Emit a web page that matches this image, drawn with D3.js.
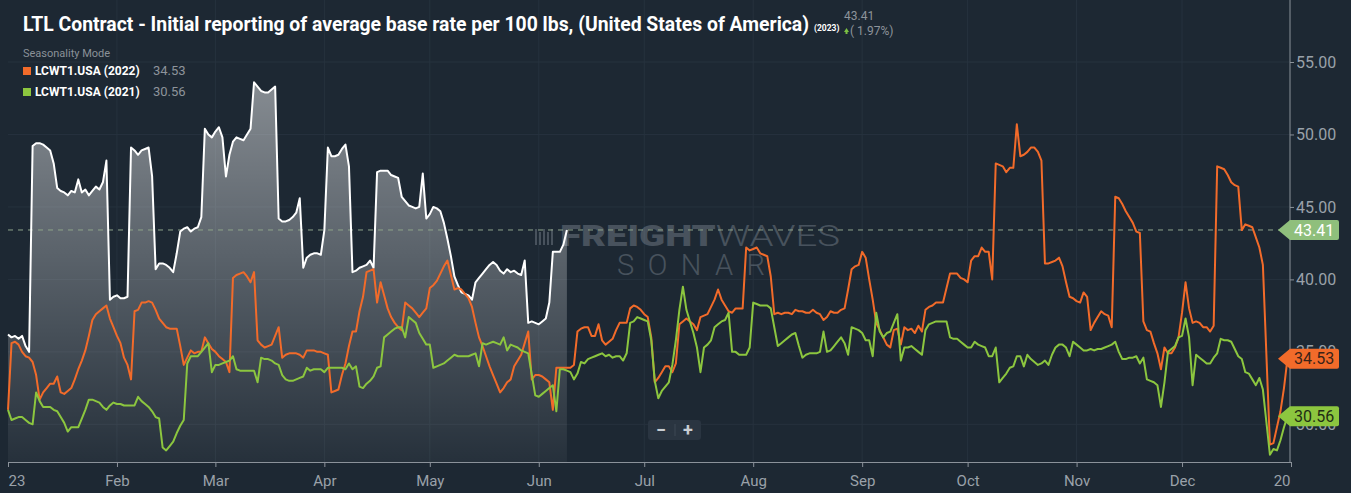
<!DOCTYPE html>
<html><head><meta charset="utf-8">
<script src="https://cdn.jsdelivr.net/npm/d3@7"></script>
<style>
html,body{margin:0;padding:0;background:#1d2833;}
svg{display:block;}
text{font-family:Roboto,"Noto Sans",sans-serif;}
</style></head>
<body><svg id="c" width="1351" height="493"></svg>
<script>
// ---------- DATA (day of year offset from Jan 1, value) ----------
const days2023 = [0,1,2,3,4,5,6,7,8,9,10,11,12,13,14,15,16,17,18,19,20,21,22,23,24,25,26,27,28,29,30,31,32,33,34,35,36,37,38,39,40,41,42,43,44,45,46,47,48,49,50,51,52,53,54,55,56,57,58,59,60,61,62,63,64,65,66,67,68,69,70,71,72,73,74,75,76,77,78,79,80,81,82,83,84,85,86,87,88,89,90,91,92,93,94,95,96,97,98,99,100,101,102,103,104,105,106,107,108,109,110,111,112,113,114,115,116,117,118,119,120,121,122,123,124,125,126,127,128,129,130,131,132,133,134,135,136,137,138,139,140,141,142,143,144,145,146,147,148,149,150,151,152,153,154,155,156,157,158,159];
const vals2023 = [36.2,36.0,36.1,35.9,36.1,35.4,35.0,49.2,49.4,49.4,49.3,49.1,48.9,48.0,46.3,46.1,46.0,45.8,46.1,46.0,46.9,46.0,46.2,45.8,46.1,46.4,46.2,46.7,48.2,38.6,38.8,38.9,38.7,38.7,38.8,49.1,48.9,48.6,48.9,49.0,49.1,47.1,40.7,41.1,41.1,41.0,40.8,40.5,41.8,43.3,43.5,43.6,43.3,43.5,43.6,44.3,50.4,50.0,49.8,50.2,50.5,49.8,47.1,48.6,49.5,49.8,49.7,49.6,50.0,50.4,53.6,53.3,53.0,52.9,52.9,53.1,53.3,44.2,44.0,44.0,44.1,44.3,44.6,45.6,40.8,41.5,41.7,41.8,41.8,41.7,43.4,49.1,48.5,48.5,48.6,49.0,49.3,47.8,40.5,40.6,40.8,40.9,41.0,41.3,40.8,47.4,47.5,47.5,47.5,47.2,47.1,47.0,45.7,45.4,45.1,45.0,44.9,45.0,47.3,44.2,44.5,45.0,44.9,44.7,43.9,42.8,41.6,40.2,39.6,39.1,39.0,38.9,38.6,39.8,40.1,40.4,40.7,41.0,41.2,41.0,40.6,40.4,40.7,40.5,40.6,40.4,40.3,41.3,37.0,37.1,37.0,36.9,37.1,37.3,38.4,41.9,41.9,41.9,42.4,43.41];

const days2022 = [0,1,2,3,4,5,6,7,8,9,10,11,12,13,14,15,16,17,18,19,20,21,22,23,24,25,26,27,28,29,30,31,32,33,34,35,36,37,38,39,40,41,42,43,44,45,46,47,48,49,50,51,52,53,54,55,56,57,58,59,60,61,62,63,64,65,66,67,68,69,70,71,72,73,74,75,76,77,78,79,80,81,82,83,84,85,86,87,88,89,90,91,92,93,94,95,96,97,98,99,100,101,102,103,104,105,106,107,108,109,110,111,112,113,114,115,116,117,118,119,120,121,122,123,124,125,126,127,128,129,130,131,132,133,134,135,136,137,138,139,140,141,142,143,144,145,146,147,148,149,150,151,152,153,154,155,156,157,158,159,160,161,162,163,164,165,166,167,168,169,170,171,172,173,174,175,176,177,178,179,180,181,182,183,184,185,186,187,188,189,190,191,192,193,194,195,196,197,198,199,200,201,202,203,204,205,206,207,208,209,210,211,212,213,214,215,216,217,218,219,220,221,222,223,224,225,226,227,228,229,230,231,232,233,234,235,236,237,238,239,240,241,242,243,244,245,246,247,248,249,250,251,252,253,254,255,256,257,258,259,260,261,262,263,264,265,266,267,268,269,270,271,272,273,274,275,276,277,278,279,280,281,282,283,284,285,286,287,288,289,290,291,292,293,294,295,296,297,298,299,300,301,302,303,304,305,306,307,308,309,310,311,312,313,314,315,316,317,318,319,320,321,322,323,324,325,326,327,328,329,330,331,332,333,334,335,336,337,338,339,340,341,342,343,344,345,346,347,348,349,350,351,352,353,354,355,356,357,359,360,362,363,364];
const vals2022 = [31.0,35.6,35.7,35.5,35.0,34.7,34.6,34.3,33.4,31.7,32.2,32.5,32.8,32.8,33.3,32.2,32.1,32.3,32.5,33.1,33.8,34.4,35.1,36.1,37.2,37.6,37.8,38.0,38.2,37.3,36.7,36.1,35.6,34.6,34.1,33.1,37.8,37.9,38.4,38.4,38.5,38.4,37.9,37.3,37.0,36.7,36.6,36.6,36.6,35.4,34.1,34.6,35.1,34.9,35.0,35.0,36.0,35.6,35.2,35.0,34.7,34.5,34.3,33.6,40.1,40.3,40.4,40.5,40.2,39.8,40.5,35.8,35.5,35.3,35.4,35.5,36.1,36.7,34.6,34.8,34.9,34.9,34.9,34.8,34.6,35.1,35.1,35.1,35.0,35.0,34.9,34.8,32.2,32.3,32.4,33.4,34.2,35.4,36.4,36.4,37.8,38.8,40.5,40.6,40.7,38.4,39.8,38.9,38.0,37.4,37.0,36.7,36.5,38.4,38.2,38.0,37.7,37.4,37.7,38.0,39.4,39.6,39.9,40.4,40.9,41.3,40.3,39.3,39.4,39.3,39.0,38.7,38.1,37.0,36.0,35.4,34.7,34.0,33.4,32.8,32.2,32.5,32.9,33.1,34.0,34.4,34.8,35.6,36.4,33.1,33.4,33.4,33.3,33.1,32.9,31.0,33.9,33.9,33.9,33.9,33.9,34.1,36.4,36.6,36.7,36.7,36.1,36.1,36.9,35.8,35.5,35.7,35.9,36.5,37.0,37.0,37.0,38.0,38.2,38.1,37.9,37.6,37.4,36.0,32.9,33.2,33.6,34.0,34.0,33.6,34.2,36.9,37.1,37.3,37.1,36.9,36.5,37.4,37.5,37.6,38.1,38.6,39.3,38.6,38.2,37.8,37.7,38.0,38.0,38.0,42.2,42.0,42.1,42.2,41.8,41.7,41.6,40.2,37.6,37.7,37.6,37.7,37.7,37.6,37.9,37.8,37.8,37.7,37.7,37.9,37.7,37.6,37.2,37.4,37.8,37.7,37.7,37.9,38.0,39.3,40.7,40.9,41.0,41.9,41.5,40.0,38.6,37.0,36.5,36.0,35.5,35.3,36.5,36.6,35.5,36.7,36.5,36.6,36.3,36.8,36.4,37.9,38.1,38.2,38.4,38.4,38.4,39.4,40.4,40.4,40.4,40.1,40.0,39.8,41.3,41.6,41.6,42.2,41.9,41.9,40.0,48.0,47.9,47.8,47.4,47.7,47.7,50.7,48.5,48.6,48.8,49.1,49.1,48.8,48.2,41.1,41.1,41.2,41.3,41.5,40.9,39.8,38.8,38.7,38.5,38.4,39.1,38.8,36.5,37.0,37.4,37.8,37.6,37.5,36.7,45.7,45.6,45.2,44.7,44.3,43.9,43.3,43.2,37.1,36.5,36.4,35.6,34.9,33.8,35.3,34.9,34.9,35.3,36.0,37.7,39.8,38.0,37.0,37.1,37.0,36.7,36.7,36.4,36.8,47.8,47.7,47.6,47.2,46.7,46.5,46.4,43.4,43.8,43.7,43.6,42.9,42.2,41.0,28.6,28.7,30.9,32.5,34.53];

const days2021 = [0,1,2,3,4,5,6,7,8,9,10,11,12,13,14,15,16,17,18,19,20,21,22,23,24,25,26,27,28,29,30,31,32,33,34,35,36,37,38,39,40,41,42,43,44,45,46,47,48,49,50,51,52,53,54,55,56,57,58,59,60,61,62,63,64,65,66,67,68,69,70,71,72,73,74,75,76,77,78,79,80,81,82,83,84,85,86,87,88,89,90,91,92,93,94,95,96,97,98,99,100,101,102,103,104,105,106,107,108,109,110,111,112,113,114,115,116,117,118,119,120,121,122,123,124,125,126,127,128,129,130,131,132,133,134,135,136,137,138,139,140,141,142,143,144,145,146,147,148,150,151,152,153,154,155,156,157,158,159,160,161,162,163,164,165,166,167,168,169,170,171,172,173,174,175,176,177,178,179,180,181,182,183,184,185,186,187,188,189,190,191,192,193,194,195,196,197,198,199,200,201,202,203,204,205,206,207,208,209,210,211,212,213,214,215,216,217,218,219,220,221,222,223,224,225,226,227,228,229,230,231,232,233,234,235,236,237,238,239,240,241,242,243,244,245,246,247,248,249,250,251,252,253,254,255,256,257,258,259,260,261,262,263,264,265,266,267,268,269,270,271,272,273,274,275,276,277,278,279,280,281,282,283,284,285,286,287,288,289,290,291,292,293,294,295,296,297,298,299,300,301,302,303,304,305,306,307,308,309,310,311,312,313,314,315,316,317,318,319,320,321,322,323,324,325,326,327,328,329,330,331,332,333,334,335,336,337,338,339,340,341,342,343,344,345,346,347,348,349,350,351,352,353,354,355,356,357,359,360,361,362,363,364];
const vals2021 = [31.0,30.3,30.4,30.5,30.5,30.3,30.1,30.0,32.2,31.6,31.2,31.2,31.2,31.0,30.9,30.5,30.1,29.5,29.8,29.8,29.8,30.4,31.0,31.7,31.7,31.6,31.5,31.2,31.0,31.3,31.5,31.4,31.4,31.3,31.3,31.3,31.3,31.9,31.6,31.4,31.2,30.9,30.5,30.4,28.4,28.2,28.5,28.8,29.4,29.9,30.3,34.2,34.7,34.7,34.7,35.0,35.3,35.6,33.6,34.1,34.1,34.2,34.3,34.4,34.7,33.8,33.7,33.7,33.7,33.7,33.7,32.9,34.6,34.5,34.5,34.4,34.2,34.1,33.4,33.1,33.0,33.0,33.1,33.2,33.3,33.9,33.7,33.8,33.8,33.8,33.6,33.9,33.9,33.9,33.9,33.9,33.8,34.2,33.8,34.0,32.6,32.5,32.8,33.0,33.3,33.9,34.0,36.0,36.2,36.4,36.6,36.7,36.7,36.0,37.4,37.2,37.0,36.3,35.9,35.5,35.5,33.9,34.0,34.1,34.2,34.4,34.6,34.8,34.7,34.7,34.7,34.7,34.8,34.9,34.0,35.6,35.5,35.6,35.7,35.6,35.5,36.0,35.1,35.5,35.4,35.3,35.1,35.0,34.9,32.0,31.9,32.1,32.3,32.5,32.7,30.9,33.8,33.8,33.7,33.6,33.1,33.5,34.3,34.2,34.5,34.6,34.7,34.8,34.9,34.7,34.8,34.6,34.7,34.7,34.4,34.9,37.0,37.1,37.4,37.3,37.2,37.1,35.8,33.0,31.8,32.3,32.6,32.9,34.1,35.8,37.9,39.5,37.9,37.1,36.3,35.3,33.6,35.3,35.5,35.8,36.7,36.9,37.1,37.2,37.7,35.0,35.0,34.8,34.8,34.8,35.3,38.4,38.3,38.2,38.2,38.2,38.0,36.7,35.4,35.6,35.8,36.0,36.2,36.3,35.4,34.6,34.8,34.9,34.9,34.9,35.0,36.4,35.0,35.1,35.4,35.7,36.0,35.6,34.8,36.7,36.6,36.5,36.3,35.8,35.8,34.7,37.7,36.4,36.0,36.3,36.4,37.0,37.6,34.4,35.3,35.3,35.4,35.2,35.0,34.8,36.5,36.9,37.0,37.1,37.1,37.1,37.1,36.0,35.9,35.9,35.7,35.5,35.3,35.3,35.7,35.5,35.4,35.3,34.7,34.7,35.3,32.9,33.2,33.5,33.9,34.0,34.7,34.7,34.0,34.8,34.5,34.3,34.1,34.2,34.4,34.1,34.8,35.3,35.5,35.5,35.3,34.7,35.7,35.5,35.3,35.1,35.1,35.2,35.1,35.2,35.2,35.3,35.4,35.5,35.7,35.0,34.5,34.5,34.6,34.6,34.7,34.2,34.6,33.1,33.0,32.9,32.7,31.2,32.9,35.0,35.2,35.4,36.0,36.1,37.3,36.0,32.7,34.8,34.6,34.4,34.2,34.2,34.6,34.9,35.9,35.8,35.8,35.7,35.2,34.7,34.5,33.6,33.5,33.1,32.7,33.2,32.4,27.9,28.3,28.2,28.9,29.8,30.56];

const monthLabels = ["23","Feb","Mar","Apr","May","Jun","Jul","Aug","Sep","Oct","Nov","Dec","20"];
const yTicks = [30,35,40,45,50,55];
const seriesNames = ["LCWT1.USA (2022)","LCWT1.USA (2021)"];
const lastValues = [34.53,30.56];
const mainLast = 43.41, mainChange = "1.97%";

// ---------- SETUP ----------
const svg = d3.select("#c");
const W = 1351, H = 493;
const colors = {bg:"#1d2833", grid:"#26323e", axis:"#8b929a", label:"#9aa1a9",
  orange:"#f26b2a", green:"#8cc63f", white:"#ffffff", cur:"#8fbf7c"};
svg.append("rect").attr("width",W).attr("height",H).attr("fill",colors.bg);

const t0 = new Date(2023,0,1), t1 = new Date(2024,0,1);
const x = d3.scaleTime().domain([t0,t1]).range([8,1291]);
const y = d3.scaleLinear().domain([27.4,55]).range([462,62]);
const toDate = d => d3.timeDay.offset(t0,d);
const mk = (ds,vs) => ds.map((d,i)=>({t:toDate(d), v:vs[i]}));
const s23 = mk(days2023,vals2023), s22 = mk(days2022,vals2022), s21 = mk(days2021,vals2021);

// grid
const months = d3.timeMonth.range(t0, d3.timeDay.offset(t1,1));
svg.append("g").selectAll("line").data(months.slice(1,12)).join("line")
  .attr("x1",d=>x(d)).attr("x2",d=>x(d)).attr("y1",0).attr("y2",462)
  .attr("stroke",colors.grid).attr("stroke-width",1);
svg.append("g").selectAll("line").data(yTicks).join("line")
  .attr("x1",8).attr("x2",1290).attr("y1",d=>y(d)).attr("y2",d=>y(d))
  .attr("stroke",colors.grid).attr("stroke-width",1);

// gradient area for 2023
const defs = svg.append("defs");
const grad = defs.append("linearGradient").attr("id","ga").attr("gradientUnits","userSpaceOnUse")
  .attr("x1",0).attr("x2",0).attr("y1",y(54)).attr("y2",462);
grad.append("stop").attr("offset","0%").attr("stop-color","#ffffff").attr("stop-opacity",0.47);
grad.append("stop").attr("offset","100%").attr("stop-color","#ffffff").attr("stop-opacity",0.04);

// watermark
const wm = svg.append("g").attr("opacity",0.28);
[0,4,8,12,16].forEach((o,i)=>{
  wm.append("rect").attr("x",535+o).attr("y",229+(i%2?3:0)).attr("width",2).attr("height",16-(i%2?3:0)).attr("fill","#b7c0c9");
});
const wt = wm.append("text").attr("x",560).attr("y",246).attr("font-size",29).attr("fill","#b7c0c9");
wt.append("tspan").attr("font-weight",900).text("FREIGHT");
wt.append("tspan").attr("font-weight",300).text("WAVES");
wt.attr("textLength",280).attr("lengthAdjust","spacingAndGlyphs");
wm.append("text").attr("x",617).attr("y",275).attr("font-size",29).attr("font-weight",300)
  .attr("fill","#b7c0c9").attr("textLength",148).attr("lengthAdjust","spacing").text("SONAR");

svg.append("path").datum(s23)
  .attr("d", d3.area().x(d=>x(d.t)).y0(462).y1(d=>y(d.v)))
  .attr("fill","url(#ga)");

// dashed current line
svg.append("line").attr("x1",8).attr("x2",1290).attr("y1",y(mainLast)).attr("y2",y(mainLast))
  .attr("stroke","#8ea58a").attr("stroke-width",1).attr("stroke-dasharray","5,5");

const line = d3.line().x(d=>x(d.t)).y(d=>y(d.v));
svg.append("path").datum(s23).attr("d",line).attr("fill","none").attr("stroke",colors.white).attr("stroke-width",2).attr("stroke-linejoin","round");
svg.append("path").datum(s22).attr("d",line).attr("fill","none").attr("stroke",colors.orange).attr("stroke-width",2).attr("stroke-linejoin","round");
svg.append("path").datum(s21).attr("d",line).attr("fill","none").attr("stroke",colors.green).attr("stroke-width",2).attr("stroke-linejoin","round");

// x axis
const xAxis = d3.axisBottom(x).tickValues(months).tickSize(5).tickFormat((d,i)=>monthLabels[i]);
const gx = svg.append("g").attr("transform","translate(0,462)").call(xAxis);
gx.select(".domain").attr("stroke",colors.axis);
gx.selectAll(".tick line").attr("stroke",colors.axis);
gx.selectAll(".tick text").attr("fill",colors.label).attr("font-size",15).attr("dy","1.05em")
  .attr("font-family","Roboto, sans-serif")
  .attr("text-anchor",(d,i)=> i===0 ? "start" : (i===12 ? "end" : "middle"))
  .attr("dx",(d,i)=> i===12 ? "-1" : "0");

// y axis (right)
const yAxis = d3.axisRight(y).tickValues(yTicks).tickSize(4).tickFormat(d3.format(".2f"));
const gy = svg.append("g").attr("transform","translate(1290,0)").call(yAxis);
gy.select(".domain").remove();
gy.append("line").attr("x1",0).attr("x2",0).attr("y1",0).attr("y2",462).attr("stroke",colors.axis);
gy.selectAll(".tick line").attr("stroke",colors.axis);
gy.selectAll(".tick text").attr("fill",colors.label).attr("font-size",16).attr("x",6)
  .attr("font-family","Roboto, sans-serif");

// last value flags
function flag(v, fill, txtColor){
  const yy = y(v);
  const g = svg.append("g");
  g.append("path").attr("d",`M1278,${yy} L1290,${yy-10} L1337,${yy-10} Q1339,${yy-10} 1339,${yy-8} L1339,${yy+8} Q1339,${yy+10} 1337,${yy+10} L1290,${yy+10} Z`)
    .attr("fill",fill);
  g.append("text").attr("x",1294).attr("y",yy).attr("dy","0.36em").attr("font-size",16)
    .attr("fill",txtColor).text(d3.format(".2f")(v));
}
flag(mainLast, colors.cur, "#ffffff");
flag(lastValues[0], colors.orange, "#3a2318");
flag(lastValues[1], colors.green, "#1f2d14");

// zoom buttons
const zb = svg.append("g");
zb.append("rect").attr("x",648).attr("y",420).attr("width",53).attr("height",20).attr("rx",3).attr("fill","#2a3541");
zb.append("line").attr("x1",675).attr("x2",675).attr("y1",424).attr("y2",436).attr("stroke","#3d4854");
zb.append("text").attr("x",661).attr("y",436).attr("text-anchor","middle").attr("font-size",18).attr("font-weight",700).attr("fill","#c9ced3").text("−");
zb.append("text").attr("x",688).attr("y",436).attr("text-anchor","middle").attr("font-size",18).attr("font-weight",700).attr("fill","#c9ced3").text("+");

// title
svg.append("text").attr("x",23).attr("y",31).attr("font-size",21).attr("font-weight",700).attr("fill","#ffffff")
  .attr("textLength",786).attr("lengthAdjust","spacingAndGlyphs")
  .text("LTL Contract - Initial reporting of average base rate per 100 lbs, (United States of America)");
svg.append("text").attr("x",814).attr("y",31).attr("font-size",8.5).attr("font-weight",700).attr("fill","#ffffff").text("(2023)");
svg.append("text").attr("x",844).attr("y",20).attr("font-size",12).attr("fill","#8d949b").text(d3.format(".2f")(mainLast));
svg.append("path").attr("d","M844,32 L846.5,28 L849,32 Z M845.5,32 h2 v2 h-2 Z").attr("fill","#7bc043");
svg.append("text").attr("x",850).attr("y",35).attr("font-size",12).attr("fill","#8d949b").text("( " + mainChange + ")");

// legend
svg.append("text").attr("x",23).attr("y",57).attr("font-size",11).attr("fill","#8a9198").text("Seasonality Mode");
[colors.orange, colors.green].forEach((c,i)=>{
  const yy = 75 + i*21;
  svg.append("rect").attr("x",23).attr("y",yy-8).attr("width",8).attr("height",8).attr("fill",c);
  svg.append("text").attr("x",35).attr("y",yy).attr("font-size",12).attr("font-weight",700).attr("fill","#ffffff").text(seriesNames[i]);
  svg.append("text").attr("x",153).attr("y",yy).attr("font-size",13).attr("fill","#8d949b").text(d3.format(".2f")(lastValues[i]));
});
</script></body></html>
